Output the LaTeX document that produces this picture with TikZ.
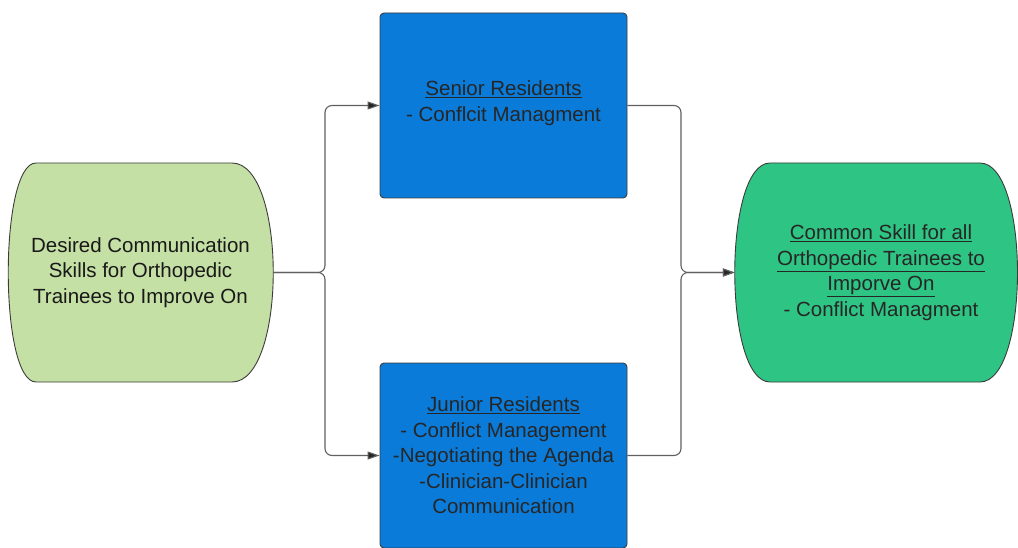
\documentclass[tikz,border=0pt]{standalone}
\usepackage{fontspec}
\setmainfont{Liberation Sans}
\usetikzlibrary{arrows.meta}
\definecolor{lgreen}{HTML}{C5E0A5}
\definecolor{mblue}{HTML}{0B7BDA}
\definecolor{mgreen}{HTML}{2EC584}
\definecolor{txt}{HTML}{262626}
\definecolor{edgec}{HTML}{3C3C3C}
\definecolor{wirec}{HTML}{606060}
\begin{document}
\begin{tikzpicture}[x=1pt,y=-1pt,
  lbl/.style={text=txt, align=center, font=\fontsize{20.5}{25.5}\selectfont, inner sep=0pt},
  shapeline/.style={draw=edgec, line width=0.9pt},
  bluebox/.style={lbl, shapeline, fill=mblue, rounded corners=4pt, minimum width=247pt, minimum height=185pt},
  wire/.style={draw=wirec, line width=1.1pt, rounded corners=7pt, -{Triangle[length=12pt,width=8pt,fill=black!85]}}
]
\useasboundingbox (0,0) rectangle (1018,548);
\clip (0,0) rectangle (1018,548);
\fill[white] (0,0) rectangle (1018,548);

% left rounded-side shape
\draw[shapeline, fill=lgreen] (36,163) -- (232,163) .. controls (287,163) and (287,382) .. (232,382) -- (36,382) .. controls (-1,382) and (-1,163) .. cycle;
\node[lbl, text=black!90, minimum width=265pt, minimum height=219pt] (desired) at (140.5,272.5)
  {Desired Communication\\Skills for Orthopedic\\Trainees to Improve On};

% right rounded-side shape
\draw[shapeline, fill=mgreen] (770,163) -- (980,163) .. controls (1030,163) and (1030,382) .. (980,382) -- (770,382) .. controls (723,382) and (723,163) .. cycle;
\node[lbl, minimum width=292pt, minimum height=219pt] (common) at (881,272.5)
  {\underline{Common Skill for all}\\\underline{Orthopedic Trainees to}\\\underline{Imporve On}\\- Conflict Managment};

% blue boxes
\node[bluebox] (senior) at (503.5,105.5)
  {\underline{Senior Residents}\\- Conflcit Managment\\[-17pt]\mbox{}};
\node[bluebox] (junior) at (503.5,455.5)
  {\underline{Junior Residents}\\- Conflict Management\\-Negotiating the Agenda\\-Clinician-Clinician\\Communication};

% connectors
\draw[wire] (desired.east) -- (325,272.5) |- (senior.west);
\draw[wire] (desired.east) -- (325,272.5) |- (junior.west);
\draw[wire] (senior.east) -| (681,272.5) -- (common.west);
\draw[wire] (junior.east) -| (681,272.5) -- (common.west);
\end{tikzpicture}
\end{document}
